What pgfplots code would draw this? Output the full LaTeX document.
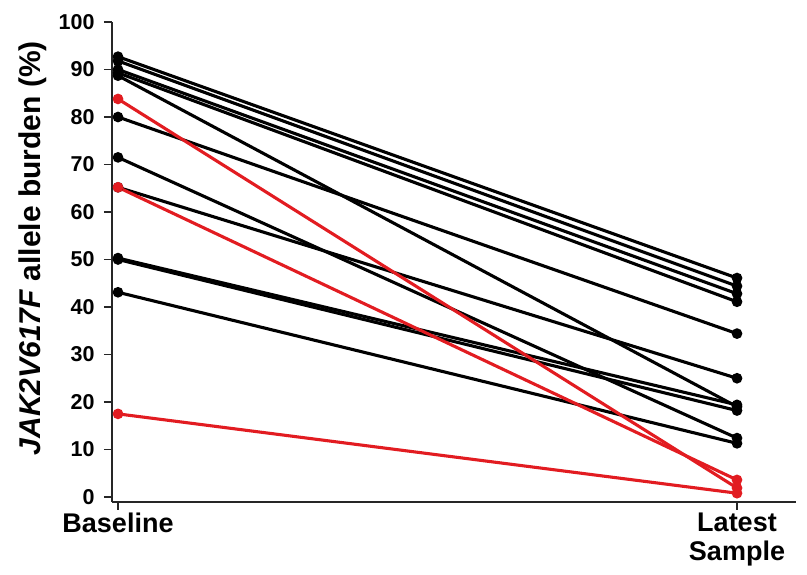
\documentclass[border=0pt]{standalone}
\usepackage{pgfplots}
\pgfplotsset{compat=1.18}
\usepackage{fontspec}
\setmainfont{Liberation Sans}
\definecolor{pairred}{RGB}{226,28,33}
\begin{document}
\begin{tikzpicture}
\path[use as bounding box] (-112pt,-73pt) rectangle (695pt,502pt);
\begin{axis}[
  at={(0,0)}, anchor=south west,
  scale only axis, width=684pt, height=480pt,
  xmin=-0.0097, xmax=1.0953, ymin=-1.05, ymax=100,
  axis x line*=bottom, axis y line*=left,
  axis line style={line width=1.2pt, black!85},
  every tick/.style={line width=1.2pt, black!85},
  tick align=outside, major tick length=8pt,
  xtick={0,1}, xticklabels={Baseline,{Latest\\Sample}},
  ytick={0,10,...,100},
  /pgf/number format/assume math mode=true,
  yticklabel style={font=\fontsize{21.5}{24}\selectfont\bfseries, xshift=-6pt},
  xticklabel style={font=\fontsize{27}{29}\selectfont\bfseries, align=center, yshift=1pt},
  ylabel={\textit{JAK2V617F} allele burden (\%)},
  ylabel style={font=\fontsize{30}{32}\selectfont\bfseries, at={(axis description cs:-0.1155,0.529)}, anchor=center},
  clip=false,
  blk/.style={black, line width=3.1pt, mark=*, mark size=3.7pt, mark options={solid}},
  rd/.style={pairred, line width=3.1pt, mark=*, mark size=3.7pt, mark options={solid}},
]
\addplot[blk] coordinates {(0,92.7) (1,46.1)};
\addplot[blk] coordinates {(0,91.8) (1,44.4)};
\addplot[blk] coordinates {(0,90.0) (1,42.8)};
\addplot[blk] coordinates {(0,89.3) (1,41.1)};
\addplot[blk] coordinates {(0,88.7) (1,19.0)};
\addplot[blk] coordinates {(0,80.0) (1,34.4)};
\addplot[blk] coordinates {(0,71.5) (1,12.4)};
\addplot[blk] coordinates {(0,65.2) (1,25.0)};
\addplot[blk] coordinates {(0,50.3) (1,19.4)};
\addplot[blk] coordinates {(0,50.0) (1,18.2)};
\addplot[blk] coordinates {(0,43.1) (1,11.3)};
\addplot[rd] coordinates {(0,83.8) (1,1.9)};
\addplot[rd] coordinates {(0,65.2) (1,3.6)};
\addplot[rd] coordinates {(0,17.5) (1,0.8)};
\end{axis}
\end{tikzpicture}
\end{document}
